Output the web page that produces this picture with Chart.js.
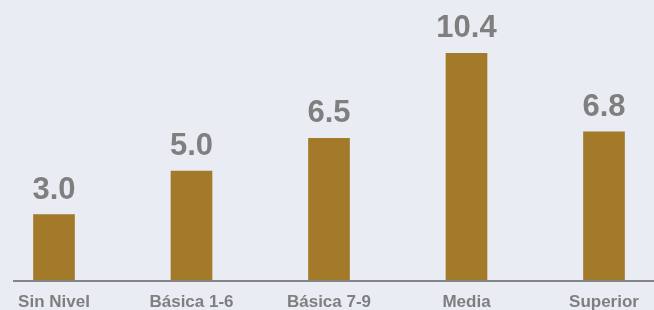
<!DOCTYPE html>
<html>
<head>
<meta charset="utf-8">
<script src="https://cdn.jsdelivr.net/npm/chart.js@4"></script>
<style>
  body { margin: 0; background: #e9ecf3; }
  #wrap { width: 654px; height: 310px; position: relative; }
</style>
</head>
<body>
<div id="wrap"><canvas id="myChart"></canvas></div>
<script>
const categories = ['Sin Nivel', 'Básica 1-6', 'Básica 7-9', 'Media', 'Superior'];
const values = [3.0, 5.0, 6.5, 10.4, 6.8];

const grey = '#7f7f7f';

// value labels over the bars + baseline across the full width
const extras = {
    id: 'extras',
    afterDatasetsDraw(chart) {
        const ctx = chart.ctx;
        const y0 = chart.scales.y.getPixelForValue(0);
        ctx.save();
        ctx.strokeStyle = '#858585';
        ctx.lineWidth = 2;
        ctx.beginPath();
        ctx.moveTo(13, y0 + 1);
        ctx.lineTo(chart.width, y0 + 1);
        ctx.stroke();

        ctx.fillStyle = grey;
        ctx.font = 'bold 31px "Liberation Sans", Arial, sans-serif';
        ctx.textAlign = 'center';
        ctx.textBaseline = 'alphabetic';
        chart.getDatasetMeta(0).data.forEach(function(bar, i) {
            ctx.fillText(values[i].toFixed(1), bar.x, bar.y - 16);
        });
        ctx.restore();
    }
};

window.addEventListener('load', function() {
    let ctx = document.getElementById('myChart').getContext('2d');
    let chart = new Chart(ctx, {
        type: 'bar',
        data: {
            labels: categories,
            datasets: [{
                data: values,
                backgroundColor: '#a3792a',
                barThickness: 41,
                clip: false
            }]
        },
        options: {
            responsive: true,
            maintainAspectRatio: false,
            animation: false,
            layout: { padding: { left: 54, right: 50, top: 0, bottom: 0 } },
            plugins: { legend: { display: false }, tooltip: { enabled: false } },
            scales: {
                x: {
                    offset: false,
                    grid: { display: false, drawTicks: false },
                    border: { display: false },
                    afterFit: function(scale) { scale.height = 30; },
                    ticks: {
                        color: grey,
                        padding: 12,
                        maxRotation: 0,
                        font: { family: '"Liberation Sans", Arial, sans-serif', size: 17, weight: 'bold' }
                    }
                },
                y: { display: false, min: 0, max: 12.85 }
            }
        },
        plugins: [extras]
    });
});
</script>
</body>
</html>
